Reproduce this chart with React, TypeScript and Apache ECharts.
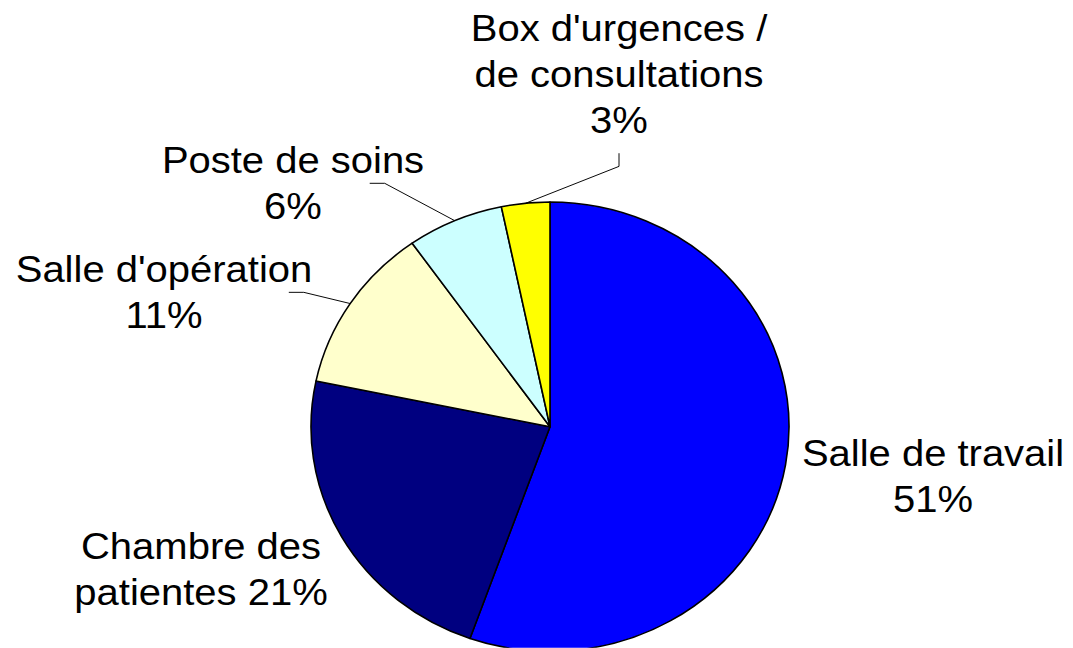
import React, { useEffect, useRef } from "react";
import * as echarts from "echarts";

// ---- data ----
const categories = [
  "Salle de travail",
  "Chambre des patientes",
  "Salle d'opération",
  "Poste de soins",
  "Box d'urgences / de consultations",
];
const values = [51, 21, 11, 6, 3];
const labelPrefixes = [
  "Salle de travail\n",
  "Chambre des\npatientes ",
  "Salle d'opération\n",
  "Poste de soins\n",
  "Box d'urgences /\nde consultations\n",
];
const colors = ["#0000FF", "#000080", "#FFFFCC", "#CCFFFF", "#FFFF00"];
const showLeader = [false, false, true, true, true];

// ---- layout (unscaled chart coordinates) ----
const SCALE_Y = 0.94;
const W = 1073;
const H = Math.round(648 / SCALE_Y);
const labelCenters: [number, number][] = [
  [933, 506],
  [201, 605],
  [164, 311],
  [293, 195],
  [619, 79],
];
const leaderMode = ["none", "none", "left", "left", "top"];

export default function App() {
  const ref = useRef<HTMLDivElement>(null);
  useEffect(() => {
    if (!ref.current) return;
    const chart = echarts.init(ref.current, undefined, { renderer: "svg" });
    chart.setOption({
      animation: false,
      backgroundColor: "#ffffff",
      series: [
        {
          type: "pie",
          center: [550, 454],
          radius: 239,
          startAngle: 90,
          clockwise: true,
          avoidLabelOverlap: false,
          itemStyle: { borderColor: "#000000", borderWidth: 1.6 },
          label: {
            show: true,
            position: "outside",
            fontFamily: "Liberation Sans, Arial, sans-serif",
            fontSize: 40,
            lineHeight: 49,
            color: "#000000",
            align: "center",
            formatter: (p: any) => labelPrefixes[p.dataIndex] + p.value + "%",
          },
          labelLine: {
            show: true,
            length: 10,
            length2: 10,
            lineStyle: { color: "#000000", width: 1 },
          },
          labelLayout: (params: any) => {
            const i = params.dataIndex;
            const [cx, cy] = labelCenters[i];
            const w = params.rect.width;
            const res: any = { x: cx, y: cy, align: "center", verticalAlign: "middle" };
            const start = params.labelLinePoints ? params.labelLinePoints[0] : null;
            if (start && leaderMode[i] === "left") {
              const endX = cx + w / 2 + 7;
              res.labelLinePoints = [
                [start[0], start[1]],
                [endX + 15, cy],
                [endX, cy],
              ];
            } else if (start && leaderMode[i] === "top") {
              res.labelLinePoints = [
                [start[0], start[1]],
                [cx, cy + 98],
                [cx, cy + 84],
              ];
            }
            return res;
          },
          data: categories.map((name, i) => ({
            name,
            value: values[i],
            itemStyle: { color: colors[i] },
            labelLine: { show: showLeader[i] },
          })),
        },
      ],
    });
    return () => chart.dispose();
  }, []);
  return (
    <div
      style={{
        position: "fixed",
        left: 0,
        top: 0,
        width: W,
        height: 648,
        overflow: "hidden",
        background: "#ffffff",
      }}
    >
      <div
        ref={ref}
        style={{
          width: W,
          height: H,
          transform: `scaleY(${SCALE_Y})`,
          transformOrigin: "0 0",
        }}
      />
    </div>
  );
}
